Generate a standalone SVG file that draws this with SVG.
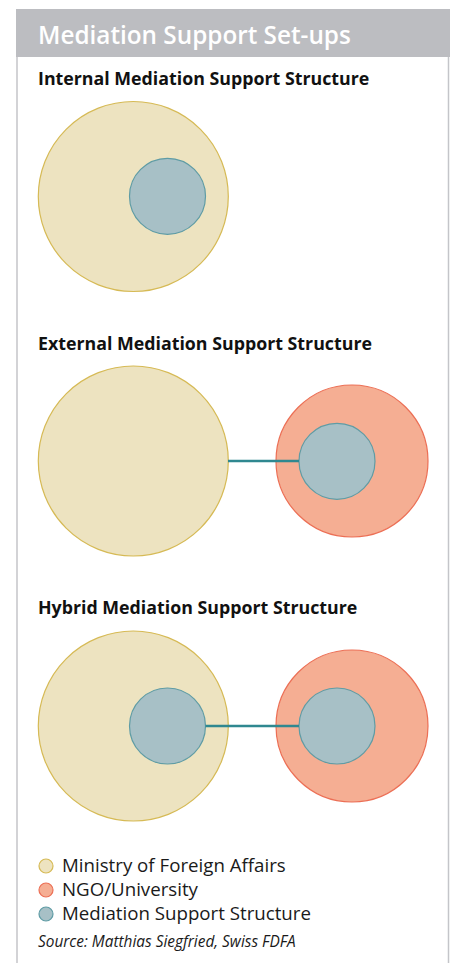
<svg xmlns="http://www.w3.org/2000/svg" width="452" height="963" viewBox="0 0 452 963">
<style>
.mfa{fill:#ede3c0;stroke:#d6ba55;stroke-width:1.2}
.ngo{fill:#f5ae93;stroke:#ec6f55;stroke-width:1.2}
.mss{fill:#a7c0c6;stroke:#5f9ca5;stroke-width:1.2}
.conn{stroke:#2f8890;stroke-width:2.6;fill:none}
.h{font-family:"Open Sans","Liberation Sans",sans-serif;font-weight:700;font-size:17.8px;fill:#111}
.lg{font-family:"Open Sans","Liberation Sans",sans-serif;font-size:18.7px;fill:#1a1a1a}
</style>
<rect width="452" height="963" fill="#fff"/>
<g id="frame">
<rect x="16" y="9" width="434" height="48" fill="#bcbdc1"/>
<line x1="17" y1="57" x2="17" y2="963" stroke="#c4c5c9" stroke-width="1.5"/>
<line x1="448.5" y1="57" x2="448.5" y2="963" stroke="#c4c5c9" stroke-width="1.5"/>
<text x="38" y="44" font-family="Open Sans,Liberation Sans,sans-serif" font-weight="600" font-size="24.3" fill="#fff">Mediation Support Set-ups</text>
</g>
<text class="h" x="38" y="85">Internal Mediation Support Structure</text>
<text class="h" x="38" y="350">External Mediation Support Structure</text>
<text class="h" x="38" y="614">Hybrid Mediation Support Structure</text>
<g id="internal-mfa"><circle class="mfa" cx="133.3" cy="196.5" r="95"/></g>
<g id="internal-mss"><circle class="mss" cx="167.5" cy="196.3" r="38"/></g>
<g id="external-mfa"><circle class="mfa" cx="133.3" cy="461" r="95"/></g>
<g id="external-ngo"><circle class="ngo" cx="352" cy="461" r="76"/></g>
<g id="external-mss"><circle class="mss" cx="337" cy="461.3" r="38"/></g>
<g id="hybrid-mfa"><circle class="mfa" cx="133.3" cy="726" r="95"/></g>
<g id="hybrid-mss-internal"><circle class="mss" cx="167.5" cy="726" r="38"/></g>
<g id="hybrid-ngo"><circle class="ngo" cx="352" cy="726" r="76"/></g>
<g id="hybrid-mss-external"><circle class="mss" cx="337" cy="726" r="38"/></g>
<g id="connectors">
<line class="conn" x1="228" y1="461" x2="299" y2="461"/>
<line class="conn" x1="205.5" y1="726" x2="299" y2="726"/>
</g>
<g id="legend">
<circle class="mfa" cx="46" cy="866" r="7"/>
<text class="lg" x="62" y="872">Ministry of Foreign Affairs</text>
<circle class="ngo" cx="46" cy="890" r="7"/>
<text class="lg" x="62" y="896">NGO/University</text>
<circle class="mss" cx="46" cy="914" r="7"/>
<text class="lg" x="62" y="920">Mediation Support Structure</text>
<text x="38" y="947" font-family="Open Sans,Liberation Sans,sans-serif" font-style="italic" font-size="15.4" fill="#1a1a1a">Source: Matthias Siegfried, Swiss FDFA</text>
</g>
</svg>
